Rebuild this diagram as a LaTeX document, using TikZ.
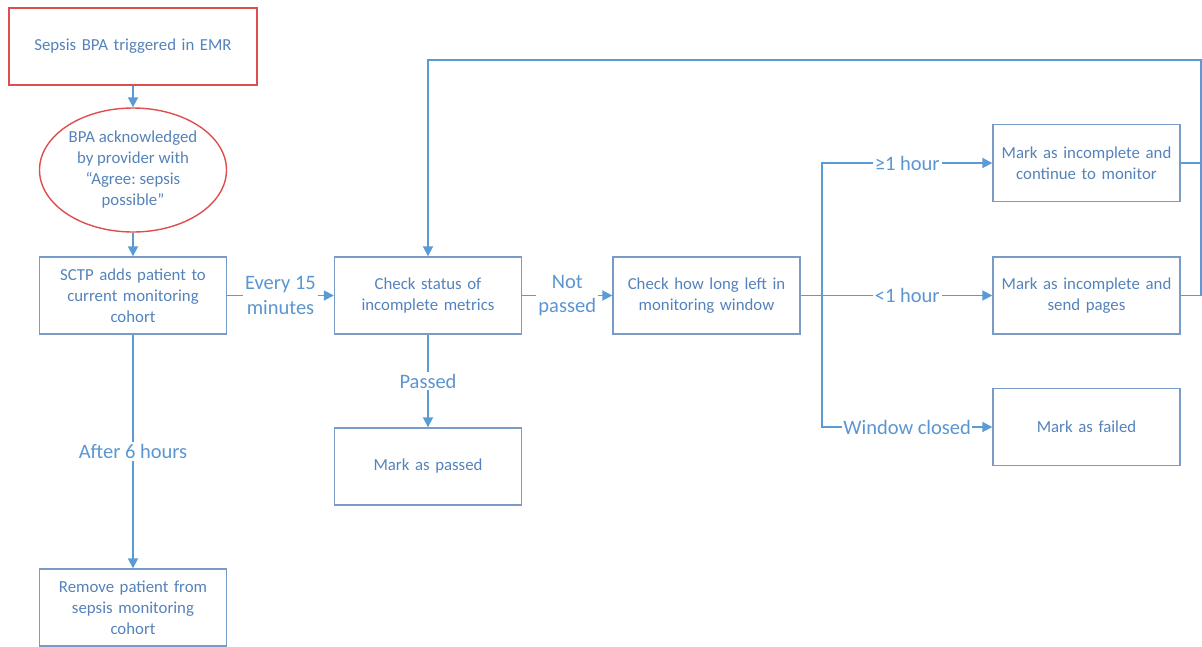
\documentclass[tikz,border=0pt]{standalone}
\usepackage{fontspec}
\setmainfont{Carlito}
\frenchspacing
\usetikzlibrary{arrows.meta,shapes.geometric}
\definecolor{lineblue}{RGB}{91,155,213}
\definecolor{boxline}{RGB}{120,155,200}
\definecolor{txtblue}{RGB}{84,130,186}
\definecolor{lblblue}{RGB}{91,150,210}
\definecolor{redline}{RGB}{222,78,78}
\begin{document}
\begin{tikzpicture}[x=1pt,y=-1pt,
  box/.style={draw=boxline,line width=1.4pt,minimum width=187pt,minimum height=77pt,inner sep=0pt,align=center,text=txtblue,font=\fontsize{16.8}{21}\selectfont,text width=180pt},
  redbox/.style={box,draw=redline,minimum width=248pt,text width=240pt},
  oval/.style={ellipse,draw=redline,line width=1.4pt,minimum width=187pt,minimum height=124pt,inner sep=0pt,align=center,text=txtblue,font=\fontsize{16.8}{21}\selectfont},
  conn/.style={draw=lineblue,line width=1.8pt},
  arr/.style={conn,-{Triangle[length=10pt,width=10pt]}},
  lbl/.style={fill=white,inner sep=2pt,text=lblblue,align=center,font=\fontsize{20.5}{24.5}\selectfont}
]
\useasboundingbox (0,0) rectangle (1202,646);
\node[redbox] (A) at (133,46.5) {Sepsis BPA triggered in EMR};
\node[oval] (B) at (133,170) {BPA acknowledged\\by provider with\\``Agree: sepsis\\possible''};
\node[box] (C) at (133,295.5) {SCTP adds patient to\\current monitoring\\cohort};
\node[box] (D) at (133,607.5) {Remove patient from\\sepsis monitoring\\cohort};
\node[box] (E) at (428,295.5) {Check status of\\incomplete metrics};
\node[box] (F) at (428,466.5) {Mark as passed};
\node[box] (G) at (706.5,295.5) {Check how long left in\\monitoring window};
\node[box] (H) at (1086.5,163) {Mark as incomplete and\\continue to monitor};
\node[box] (I) at (1086.5,295.5) {Mark as incomplete and\\send pages};
\node[box] (J) at (1086.5,427) {Mark as failed};
\coordinate (br) at (822,295.5);
\coordinate (rt) at (1201,60);

\draw[arr] (A) -- (B);
\draw[arr] (B) -- (C);
\draw[arr] (C) -- node[lbl]{After 6 hours} (D);
\draw[arr] (C) -- node[lbl]{Every 15\\minutes} (E);
\draw[arr] (E) -- node[lbl]{Not\\passed} (G);
\draw[arr] (E) -- node[lbl]{Passed} (F);
\draw[conn] (G) -- (br);
\draw[arr] (br) |- node[lbl,pos=0.75]{≥1 hour} (H);
\draw[arr] (br) -- node[lbl]{<1 hour} (I);
\draw[arr] (br) |- node[lbl,pos=0.75,inner sep=1pt]{Window closed} (J);
\draw[conn] (H.east) -- (H.east -| rt);
\draw[arr] (I.east) -- (I.east -| rt) -- (rt) -- (rt -| E.north) -- (E.north);
\end{tikzpicture}
\end{document}
